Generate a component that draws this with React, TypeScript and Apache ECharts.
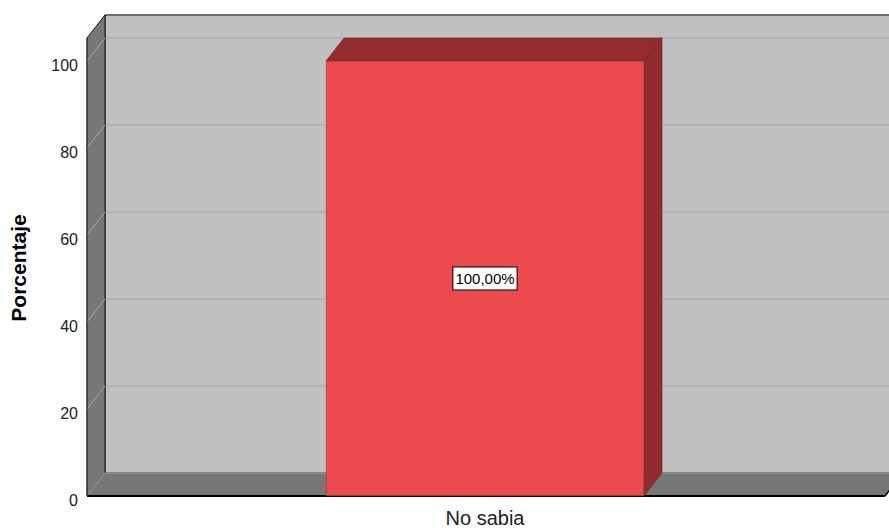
import React, { useEffect, useRef } from "react";
import * as echarts from "echarts";

const CATEGORIES = ["No sabia"];
const VALUES = [100];
const Y_TICKS = [0, 20, 40, 60, 80, 100];
const Y_NAME = "Porcentaje";

const DX = 18;
const DY = -23;
const WALL_TOP = 105.3;
const BAR_W = 318;
const FONT = "'Liberation Sans', Arial, sans-serif";

export default function App() {
  const ref = useRef<HTMLDivElement>(null);
  useEffect(() => {
    if (!ref.current) return;
    const chart = echarts.init(ref.current, undefined, { renderer: "svg" });
    const yMin = Y_TICKS[0];
    const yMax = Y_TICKS[Y_TICKS.length - 1];
    const yInt = Y_TICKS[1] - Y_TICKS[0];

    const wallsRender = (params: any, api: any) => {
      const cs = params.coordSys;
      const x0 = cs.x;
      const xR = cs.x + cs.width + 2;
      const y0 = api.coord([0, yMin])[1];
      const yT = api.coord([0, WALL_TOP])[1];
      const children: any[] = [];
      children.push({
        type: "rect",
        shape: { x: x0 + DX, y: yT + DY, width: cs.width + 60, height: y0 - yT },
        style: { fill: "#C0C0C0", stroke: "#000", lineWidth: 1 },
      });
      Y_TICKS.forEach((t) => {
        if (t === yMin) return;
        const y = api.coord([0, t])[1];
        children.push({
          type: "line",
          shape: { x1: x0 + DX, y1: y + DY, x2: xR + DX + 60, y2: y + DY },
          style: { stroke: "#AEAEAE", lineWidth: 1.5 },
        });
      });
      children.push({
        type: "polygon",
        shape: { points: [[x0, y0], [x0, yT], [x0 + DX, yT + DY], [x0 + DX, y0 + DY]] },
        style: { fill: "#777777", stroke: "#1a1a1a", lineWidth: 1 },
      });
      Y_TICKS.forEach((t) => {
        if (t === yMin) return;
        const y = api.coord([0, t])[1];
        children.push({
          type: "line",
          shape: { x1: x0, y1: y, x2: x0 + DX, y2: y + DY },
          style: { stroke: "#A6A6A6", lineWidth: 1 },
        });
      });
      children.push({
        type: "polygon",
        shape: { points: [[x0, y0], [xR, y0], [xR + DX, y0 + DY], [x0 + DX, y0 + DY]] },
        style: { fill: "#777777" },
      });
      children.push({
        type: "line",
        shape: { x1: x0 + DX, y1: y0 + DY, x2: xR + DX, y2: y0 + DY },
        style: { stroke: "#A8A8A8", lineWidth: 1 },
      });
      children.push({
        type: "line",
        shape: { x1: x0, y1: y0, x2: x0 + DX, y2: y0 + DY },
        style: { stroke: "#A6A6A6", lineWidth: 1 },
      });
      children.push({
        type: "line",
        shape: { x1: x0, y1: y0, x2: xR, y2: y0 },
        style: { stroke: "#000", lineWidth: 2 },
      });
      children.push({
        type: "line",
        shape: { x1: xR, y1: y0, x2: xR + DX, y2: y0 + DY },
        style: { stroke: "#000", lineWidth: 1.5 },
      });
      children.push({
        type: "line",
        shape: { x1: x0, y1: y0, x2: x0, y2: yT },
        style: { stroke: "#333", lineWidth: 1 },
      });
      return { type: "group", children };
    };

    const barFacesRender = (params: any, api: any) => {
      const idx = api.value(0);
      const val = api.value(1);
      const [cx, yv] = api.coord([idx, val]);
      const y0 = api.coord([idx, yMin])[1];
      const l = cx - BAR_W / 2;
      const r = cx + BAR_W / 2;
      return {
        type: "group",
        children: [
          {
            type: "polygon",
            shape: { points: [[r, yv], [r + DX, yv + DY], [r + DX, y0 + DY], [r, y0]] },
            style: { fill: "#912C2E", stroke: "#6e2022", lineWidth: 0.6 },
          },
          {
            type: "polygon",
            shape: { points: [[l, yv], [l + DX, yv + DY], [r + DX, yv + DY], [r, yv]] },
            style: { fill: "#922C2E", stroke: "#6e2022", lineWidth: 0.6 },
          },
        ],
      };
    };

    chart.setOption({
      animation: false,
      backgroundColor: "#ffffff",
      grid: { left: 87, right: 6, top: 61, bottom: 32, containLabel: false },
      xAxis: {
        type: "category",
        data: CATEGORIES,
        axisLine: { show: false },
        axisTick: { show: false },
        splitLine: { show: false },
        axisLabel: { color: "#222", fontFamily: FONT, fontSize: 20, margin: 12 },
      },
      yAxis: {
        type: "value",
        min: yMin,
        max: yMax,
        interval: yInt,
        axisLine: { show: false },
        axisTick: { show: false },
        splitLine: { show: false },
        axisLabel: {
          color: "#222",
          fontFamily: FONT,
          fontSize: 16,
          margin: 9,
          verticalAlign: "top",
          lineHeight: 8,
        },
      },
      graphic: [
        {
          type: "text",
          x: 18,
          y: 268,
          rotation: Math.PI / 2,
          style: {
            text: Y_NAME,
            fontFamily: FONT,
            fontSize: 21,
            fontWeight: "bold",
            fill: "#000",
            textAlign: "center",
            textVerticalAlign: "middle",
          },
        },
      ],
      series: [
        {
          type: "custom",
          z: 1,
          renderItem: wallsRender,
          data: [[0, 0]],
          silent: true,
        },
        {
          type: "custom",
          z: 2,
          renderItem: barFacesRender,
          data: VALUES.map((v, i) => [i, v]),
          silent: true,
        },
        {
          type: "bar",
          z: 3,
          data: VALUES,
          barWidth: BAR_W,
          itemStyle: { color: "#EC4A4C", borderColor: "#9a3434", borderWidth: 0.6 },
          label: {
            show: true,
            position: "inside",
            formatter: (p: any) => p.value.toFixed(2).replace(".", ",") + "%",
            color: "#000",
            fontFamily: FONT,
            fontSize: 15,
            backgroundColor: "#ffffff",
            borderColor: "#000",
            borderWidth: 1,
            padding: [4, 2, 3, 2],
          },
        },
      ],
    });
    return () => chart.dispose();
  }, []);
  return (
    <div
      ref={ref}
      style={{ position: "absolute", left: 0, top: 0, width: 889, height: 528 }}
    />
  );
}
